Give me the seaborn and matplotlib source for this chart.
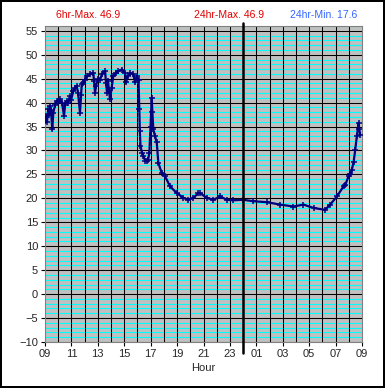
import numpy as np
import pandas as pd
import seaborn as sns
import matplotlib
matplotlib.use("Agg")
import matplotlib.pyplot as plt

# hours elapsed since 09:00 and temperature readings
hours = [0.00, 0.08, 0.15, 0.25, 0.30, 0.38, 0.45, 0.55, 0.63, 0.76, 0.89, 0.98,
         1.14, 1.29, 1.44, 1.52, 1.64, 1.74, 1.89, 1.97, 2.14, 2.27, 2.40, 2.50,
         2.65, 2.73, 2.78, 2.88, 3.03, 3.18, 3.41, 3.66, 3.71, 3.79, 3.86, 4.02,
         4.17, 4.32, 4.55, 4.62, 4.70, 4.77, 4.92, 5.04, 5.17, 5.38, 5.55, 5.81,
         6.06, 6.14, 6.25, 6.44, 6.69, 6.82, 6.95, 7.08, 7.14, 7.18, 7.23, 7.35,
         7.45, 7.58, 7.70, 7.80, 7.90, 7.99, 8.08, 8.13, 8.20, 8.33, 8.46, 8.58,
         8.84, 9.09, 9.47, 9.98, 10.48, 10.86, 11.23, 11.61, 11.74, 12.25, 12.75,
         13.26, 13.77, 14.27, 15.02, 15.78, 16.80, 17.80, 18.81, 19.57, 20.33,
         21.21, 21.59, 22.10, 22.60, 22.73, 22.98, 23.11, 23.23, 23.36, 23.48,
         23.61, 23.74, 23.79, 23.86]
temps = [36.1, 37.2, 36.0, 38.6, 37.5, 39.3, 38.5, 34.4, 37.9, 39.5, 40.3, 40.2,
         40.7, 40.0, 37.2, 39.5, 40.4, 40.0, 41.4, 40.5, 42.4, 43.0, 43.4, 42.0,
         37.9, 41.5, 43.8, 44.0, 44.8, 45.5, 45.9, 46.2, 44.5, 42.1, 43.5, 45.0,
         44.8, 46.0, 46.6, 44.0, 42.0, 44.5, 40.7, 43.0, 45.5, 46.2, 46.6, 46.9,
         46.2, 44.2, 45.5, 46.2, 45.9, 44.2, 45.5, 44.8, 38.6, 34.0, 30.9, 29.5,
         28.8, 27.9, 27.7, 28.0, 29.5, 35.0, 41.0, 38.0, 34.4, 33.0, 31.7, 27.4,
         25.3, 24.6, 22.5, 21.1, 20.1, 19.7, 20.1, 21.1, 21.1, 20.1, 19.7,
         20.4, 19.7, 19.6, 19.7, 19.4, 19.2, 18.7, 18.3, 18.7, 18.0,
         17.6, 18.7, 20.4, 22.5, 22.8, 24.6, 25.0, 26.0, 27.5, 30.0,
         33.0, 35.8, 34.5, 33.3]

tick_hours = list(range(0, 25, 2))
tick_labels = ["09", "11", "13", "15", "17", "19", "21", "23", "01", "03", "05", "07", "09"]

df = pd.DataFrame({"hour": hours, "temp": temps})

sns.set_style("white")
plt.rcParams['font.family'] = ['Liberation Sans', 'DejaVu Sans']

fig = plt.figure(figsize=(3.85, 3.88), dpi=100)
fig.patch.set_edgecolor("black")
fig.patch.set_linewidth(1.5)
ax = fig.add_axes([45 / 385, 1 - 342 / 388, 317 / 385, 316 / 388])
ax.set_facecolor("#C0C0C0")

# grid: cyan every degree, black every 5 degrees and every hour
for v in range(-10, 57):
    if v % 5 != 0:
        ax.axhline(v, color="#00FFFF", lw=0.8, zorder=1)
for v in range(-10, 56, 5):
    ax.axhline(v, color="black", lw=0.75, zorder=1.5)
for h in range(1, 24):
    ax.axvline(h, color="black", lw=0.75, zorder=1.5)

sns.lineplot(data=df, x="hour", y="temp", ax=ax, color="#000080", lw=1.6,
             marker="+", markersize=4, markeredgewidth=1.1, markeredgecolor="#000080",
             estimator=None, zorder=3)

# midnight marker
ax.axvline(15, ymin=-0.035, ymax=1.01, color="black", lw=1.8, clip_on=False, zorder=4)

ax.set_xlim(0, 24)
ax.set_ylim(-10, 56)
ax.set_yticks(range(-10, 56, 5))
ax.set_xticks(tick_hours)
ax.set_xticklabels(tick_labels)
ax.tick_params(axis="both", labelsize=8, length=3, color="black", pad=2,
               bottom=True, left=True)
ax.set_xlabel("Hour", fontsize=8, labelpad=3)
ax.set_ylabel("")
for s in ax.spines.values():
    s.set_color("#808080")
    s.set_linewidth(0.8)

fig.text(88 / 385, 1 - 15 / 388, "6hr-Max. 46.9", color="#E00000", fontsize=7.5,
         ha="center", va="center")
fig.text(229 / 385, 1 - 15 / 388, "24hr-Max. 46.9", color="#E00000", fontsize=7.5,
         ha="center", va="center")
fig.text(324 / 385, 1 - 15 / 388, "24hr-Min. 17.6", color="#3366FF", fontsize=7.5,
         ha="center", va="center")

fig.savefig("out.png", dpi=100, edgecolor=fig.get_edgecolor())
